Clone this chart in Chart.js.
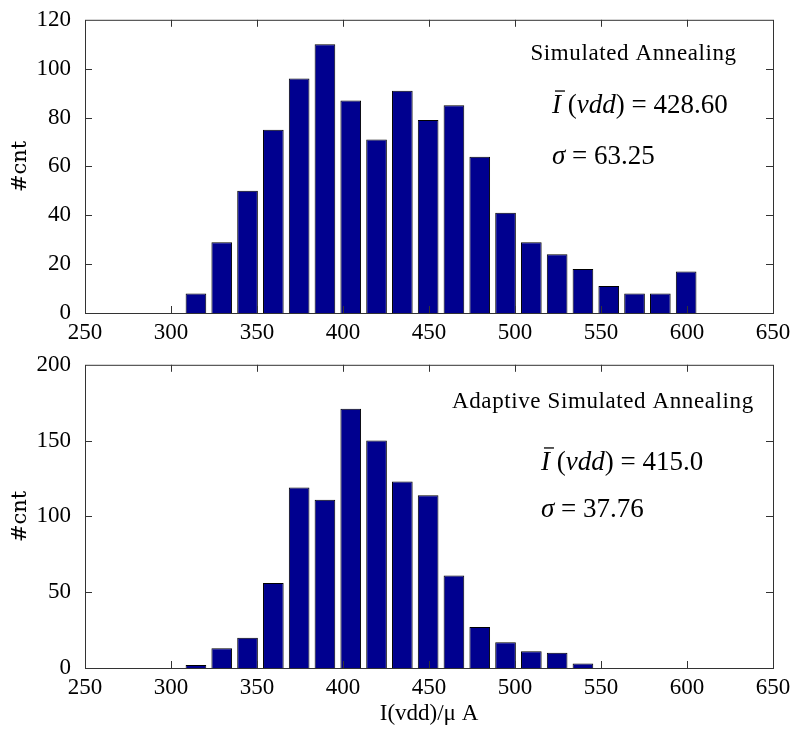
<!DOCTYPE html>
<html lang="en">
<head>
<meta charset="UTF-8">
<title>I(vdd) histograms: SA vs ASA</title>
<script src="https://cdn.jsdelivr.net/npm/chart.js"></script>
<style>
  body { margin: 0; background: #fff; }
  #wrap { position: relative; width: 794px; height: 730px; }
  canvas { position: absolute; left: 0; }
</style>
</head>
<body>
<div id="wrap">
  <canvas id="saChart" width="794" height="345" style="top:0"></canvas>
  <canvas id="asaChart" width="794" height="385" style="top:345px"></canvas>
</div>
<script>
// histogram bins (centres, uA) and counts
const binCenters = [314.5, 329.5, 344.5, 359.5, 374.5, 389.5, 404.5, 419.5, 434.5, 449.5,
                    464.5, 479.5, 494.5, 509.5, 524.5, 539.5, 554.5, 569.5, 584.5, 599.5];
const saCounts  = [8, 29, 50, 75, 96, 110, 87, 71, 91, 79, 85, 64, 41, 29, 24, 18, 11, 8, 8, 17];
const asaCounts = [2, 13, 20, 56, 119, 111, 171, 150, 123, 114, 61, 27, 17, 11, 10, 3];

const xTicks    = [250, 300, 350, 400, 450, 500, 550, 600, 650];
const saYTicks  = [0, 20, 40, 60, 80, 100, 120];
const asaYTicks = [0, 50, 100, 150, 200];

const serif = '"Liberation Serif", "Times New Roman", serif';

// frame, inward tick marks and the text inside each panel
const panelDecor = {
  id: 'panelDecor',
  afterDraw(chart, args, opts) {
    const {ctx, chartArea: a, scales: {x, y}} = chart;
    ctx.save();
    ctx.strokeStyle = '#333';
    ctx.lineWidth = 1;
    ctx.strokeRect(a.left + 0.5, a.top + 0.5, a.right - a.left, a.bottom - a.top);

    const tick = 7;
    ctx.beginPath();
    x.ticks.forEach(t => {
      if (t.value === x.min || t.value === x.max) return;
      const px = Math.round(x.getPixelForValue(t.value)) + 0.5;
      ctx.moveTo(px, a.bottom); ctx.lineTo(px, a.bottom - tick);
      ctx.moveTo(px, a.top); ctx.lineTo(px, a.top + tick);
    });
    y.ticks.forEach(t => {
      if (t.value === y.min || t.value === y.max) return;
      const py = Math.round(y.getPixelForValue(t.value)) + 0.5;
      ctx.moveTo(a.left, py); ctx.lineTo(a.left + tick, py);
      ctx.moveTo(a.right, py); ctx.lineTo(a.right - tick, py);
    });
    ctx.stroke();

    ctx.fillStyle = '#000';
    ctx.textBaseline = 'alphabetic';
    ctx.textAlign = 'left';

    // method name
    ctx.font = `23px ${serif}`;
    ctx.letterSpacing = '0.6px';
    ctx.fillText(opts.title, x.getPixelForValue(opts.titleAt[0]), y.getPixelForValue(opts.titleAt[1]));
    ctx.letterSpacing = '0px';

    // mean line:  I-bar (vdd) = value
    const up = `27px ${serif}`, it = `italic 27px ${serif}`;
    let cx = x.getPixelForValue(opts.statsAt[0]);
    const by = y.getPixelForValue(opts.statsAt[1]);
    const parts = [[it, 'I'], [up, ' ('], [it, 'vdd'], [up, ') = ' + opts.mean]];
    parts.forEach(([f, s], i) => {
      ctx.font = f;
      ctx.fillText(s, cx, by);
      if (i === 0) ctx.fillRect(cx + 3, by - 23, ctx.measureText(s).width + 1, 1.3);
      cx += ctx.measureText(s).width;
    });

    // sigma line
    cx = x.getPixelForValue(opts.statsAt[0]);
    const sy = y.getPixelForValue(opts.sigmaAt);
    ctx.font = it;
    ctx.fillText('σ', cx, sy);
    cx += ctx.measureText('σ').width;
    ctx.font = up;
    ctx.fillText(' = ' + opts.sigma, cx, sy);
    ctx.restore();
  }
};

function makeChart(id, counts, yTicks, padTop, xAxisHeight, showXTitle, decor) {
  return new Chart(document.getElementById(id), {
    type: 'bar',
    data: {
      datasets: [{
        data: counts.map((c, i) => ({x: binCenters[i], y: c})),
        backgroundColor: '#00008f',
        borderColor: '#000',
        borderWidth: 1,
        barPercentage: 0.8,
        categoryPercentage: 1
      }]
    },
    options: {
      responsive: false,
      animation: false,
      devicePixelRatio: 1,
      layout: { padding: { top: padTop, right: 21, left: 0, bottom: 0 } },
      plugins: {
        legend: { display: false },
        tooltip: { enabled: false },
        panelDecor: decor
      },
      scales: {
        x: {
          type: 'linear',
          min: 250, max: 650,
          offset: false,
          grid: { display: false },
          border: { display: false },
          afterBuildTicks: s => { s.ticks = xTicks.map(v => ({value: v})); },
          afterFit: s => { s.height = xAxisHeight; },
          ticks: { font: { family: serif, size: 23 }, color: '#000', padding: -2, maxRotation: 0, autoSkip: false },
          title: {
            display: showXTitle, text: 'I(vdd)/μ A', color: '#000',
            font: { family: serif, size: 23 }, padding: { top: 0, bottom: 2 }
          }
        },
        y: {
          min: yTicks[0], max: yTicks[yTicks.length - 1],
          grid: { display: false },
          border: { display: false },
          afterBuildTicks: s => { s.ticks = yTicks.map(v => ({value: v})); },
          afterFit: s => { s.width = 85; },
          ticks: { font: { family: serif, size: 23 }, color: '#000', padding: 6 },
          title: {
            display: true, text: '#cnt', color: '#000',
            font: { family: '"DejaVu Serif", serif', size: 21 }, padding: { top: 8, bottom: 0 }
          }
        }
      }
    },
    plugins: [panelDecor]
  });
}

makeChart('saChart', saCounts, saYTicks, 15, 32, false, {
  title: 'Simulated Annealing', titleAt: [509, 103.4],
  mean: '428.60', sigma: '63.25', statsAt: [521.5, 81.7], sigmaAt: 60.8
});

makeChart('asaChart', asaCounts, asaYTicks, 13, 62, true, {
  title: 'Adaptive Simulated Annealing', titleAt: [463.4, 171.6],
  mean: '415.0', sigma: '37.76', statsAt: [515.1, 130.4], sigmaAt: 99.5
});
</script>
</body>
</html>
